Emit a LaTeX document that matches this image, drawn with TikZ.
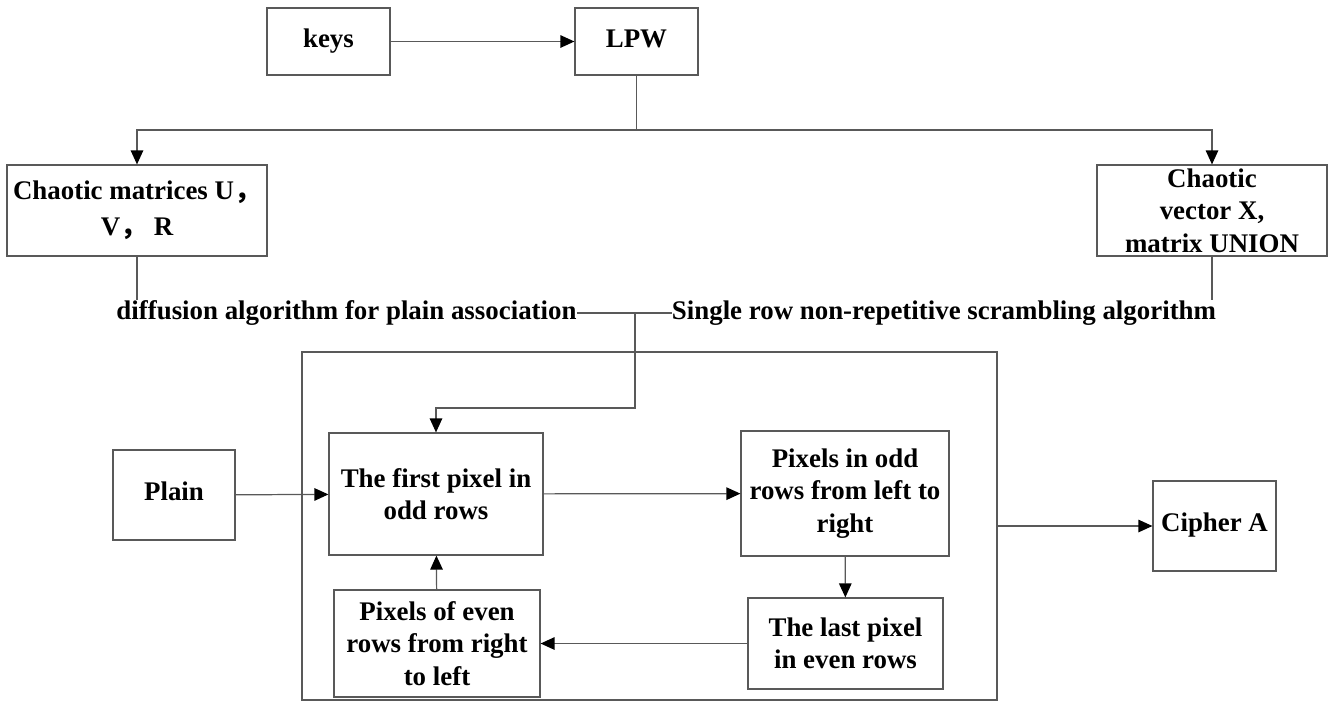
\documentclass[tikz,border=0pt]{standalone}
\usepackage{fontspec}
\setmainfont{Liberation Serif}
\newfontfamily\cjkfont{Noto Sans CJK SC}
\usetikzlibrary{arrows.meta, positioning, calc}

\begin{document}
\begin{tikzpicture}[x=0.02cm, y=-0.02cm,
    every node/.style={font=\fontsize{15.3}{18.5}\selectfont\bfseries},
    box/.style={draw=black!65, line width=0.7pt, align=center, inner sep=2pt},
    oneline/.style={text height=0.66em, text depth=0pt},
    link/.style={draw=black!65, line width=0.7pt},
    arr/.style={link, -{Triangle[length=0.28cm, width=0.25cm, color=black]}}]
    % Page frame
    \useasboundingbox (0,0) rectangle (1336,704);

    % Key generation
    \node[box, oneline, minimum width=2.46cm, minimum height=1.34cm] (keys) at (328.5,41.5) {keys};
    \node[box, oneline, minimum width=2.46cm, minimum height=1.34cm] (lpw) at (636.5,41.5) {LPW};
    \node[box, minimum width=5.2cm, minimum height=1.82cm] (chaoU) at (137,210.5)
        {Chaotic matrices U{\cjkfont ，}\\[2pt]V{\cjkfont ，} R};
    \node[box, minimum width=4.6cm, minimum height=1.82cm] (chaoX) at (1212,210.5)
        {Chaotic\\vector X,\\matrix UNION};

    % Algorithm labels
    \node[inner sep=0pt] (diff) at (346.5,313) {diffusion algorithm for plain association};
    \node[inner sep=0pt] (scram) at (944,313) {Single row non-repetitive scrambling algorithm};

    % Encryption scheme
    \node[box, minimum width=13.9cm, minimum height=6.96cm] (scheme) at (649.5,526) {};
    \node[box, oneline, minimum width=2.44cm, minimum height=1.8cm] (plain) at (174,495) {Plain};
    \node[box, minimum width=4.28cm, minimum height=2.44cm] (first) at (436,494)
        {The first pixel in\\odd rows};
    \node[box, minimum width=4.16cm, minimum height=2.5cm] (odd) at (845,493.5)
        {Pixels in odd\\rows from left to\\right};
    \node[box, minimum width=3.9cm, minimum height=1.82cm] (last) at (845.5,643.5)
        {The last pixel\\in even rows};
    \node[box, minimum width=4.12cm, minimum height=2.14cm] (even) at (437,643.5)
        {Pixels of even\\rows from right\\to left};
    \node[box, oneline, minimum width=2.46cm, minimum height=1.8cm] (cipher) at (1214.5,526) {Cipher A};

    % Junctions
    \coordinate (split) at (636.5,130);
    \coordinate (merge) at (635,313);
    \coordinate (bend) at (635,408);

    % Connectors
    \draw[arr] (keys) -- (lpw);
    \draw[link] (lpw.south) -- (split);
    \draw[arr] (split) -| (chaoU.north);
    \draw[arr] (split) -| (chaoX.north);
    \draw[link] (chaoU.south) -- (chaoU.south |- diff.north);
    \draw[link] (chaoX.south) -- (chaoX.south |- scram.north);
    \draw[link] (diff.east) -- (scram.west);
    \draw[arr] (merge) -- (bend) -| (first.north);
    \draw[arr] (plain) -- (first);
    \draw[arr] (first) -- (odd);
    \draw[arr] (odd) -- (last);
    \draw[arr] (last) -- (even);
    \draw[arr] (even) -- (first);
    \draw[arr] (scheme.east) -- (cipher);
\end{tikzpicture}
\end{document}
